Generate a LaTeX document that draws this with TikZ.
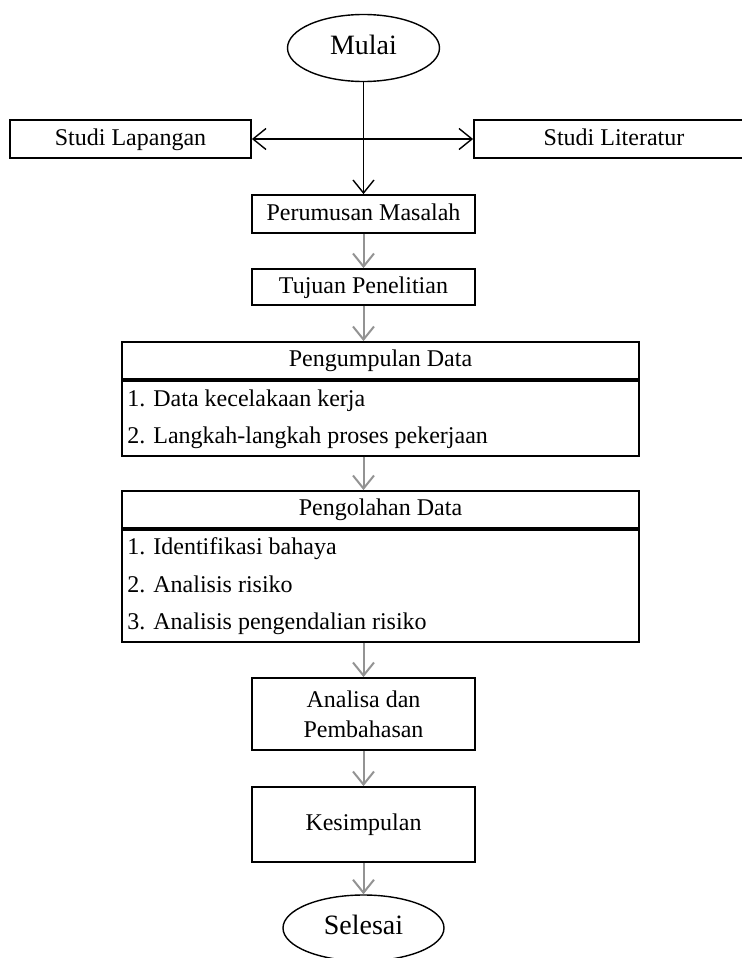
\documentclass[tikz,border=0pt]{standalone}
\usepackage{fontspec}
\setmainfont{Liberation Serif}
\usetikzlibrary{arrows.meta,positioning,shapes.geometric}

\tikzset{
    barb/.tip={Straight Barb[length=6.5pt,width=10.5pt]},
    box/.style={draw, line width=0.9pt, inner sep=0pt, font=\fontsize{12}{14}\selectfont},
    oneline/.style={text height=8.5pt, text depth=2.5pt},
    terminal/.style={draw, ellipse, line width=0.7pt, inner sep=0pt, font=\fontsize{14}{16}\selectfont, text height=9.5pt, text depth=3pt},
    item/.style={anchor=base west, inner sep=0pt, font=\fontsize{12}{14}\selectfont},
    flow/.style={draw=black, line width=0.7pt},
    grayflow/.style={draw=gray!85, line width=1pt, -barb},
}

\begin{document}
\begin{tikzpicture}[x=0.5pt, y=-0.5pt]
    % frame
    \useasboundingbox (0,0) rectangle (742,958);

    % start
    \node[terminal, minimum width=76pt, minimum height=33.5pt] (mulai) at (363.5,48) {Mulai};

    % studies
    \node[box, oneline, minimum width=120.5pt, minimum height=19pt] (lapangan) at (130.5,139) {Studi Lapangan};
    \node[box, oneline, minimum width=140pt, minimum height=19pt] (literatur) at (614,139) {Studi Literatur};

    % problem and aim
    \node[box, oneline, minimum width=111.5pt, minimum height=19pt] (perumusan) at (363.5,214) {Perumusan Masalah};
    \node[box, oneline, minimum width=111.5pt, minimum height=18pt] (tujuan) at (363.5,287) {Tujuan Penelitian};

    % data collection
    \node[box, oneline, minimum width=258.5pt, minimum height=18.5pt] (kumpulHead) at (380.5,360.5) {Pengumpulan Data};
    \node[box, minimum width=258.5pt, minimum height=37.5pt, anchor=north] (kumpulBody) at (kumpulHead.south) {};
    \node[item] (kumpulA) at (127,406) {\makebox[13pt][l]{1.}Data kecelakaan kerja};
    \node[item] (kumpulB) at (127,443) {\makebox[13pt][l]{2.}Langkah-langkah proses pekerjaan};

    % data processing
    \node[box, oneline, minimum width=258.5pt, minimum height=18.5pt] (olahHead) at (380.5,509.5) {Pengolahan Data};
    \node[box, minimum width=258.5pt, minimum height=56pt, anchor=north] (olahBody) at (olahHead.south) {};
    \node[item] (olahA) at (127,554) {\makebox[13pt][l]{1.}Identifikasi bahaya};
    \node[item] (olahB) at (127,592) {\makebox[13pt][l]{2.}Analisis risiko};
    \node[item] (olahC) at (127,629) {\makebox[13pt][l]{3.}Analisis pengendalian risiko};

    % analysis, conclusion, end
    \node[box, minimum width=111.5pt, minimum height=36pt, align=center] (analisa) at (363.5,714) {Analisa dan\\[1pt]Pembahasan};
    \node[box, oneline, minimum width=111.5pt, minimum height=37.5pt] (kesimpulan) at (363.5,824.5) {Kesimpulan};
    \node[terminal, minimum width=80.5pt, minimum height=33pt] (selesai) at (363.5,928) {Selesai};

    % connectors
    \draw[flow, barb-barb] (lapangan) -- (literatur);
    \draw[flow, -barb] (mulai) -- (perumusan);
    \draw[grayflow] (perumusan) -- (tujuan);
    \draw[grayflow] (tujuan.south) -- (tujuan.south |- kumpulHead.north);
    \draw[grayflow] (tujuan.south |- kumpulBody.south) -- (tujuan.south |- olahHead.north);
    \draw[grayflow] (analisa.north |- olahBody.south) -- (analisa);
    \draw[grayflow] (analisa) -- (kesimpulan);
    \draw[grayflow] (kesimpulan) -- (selesai);
\end{tikzpicture}
\end{document}
